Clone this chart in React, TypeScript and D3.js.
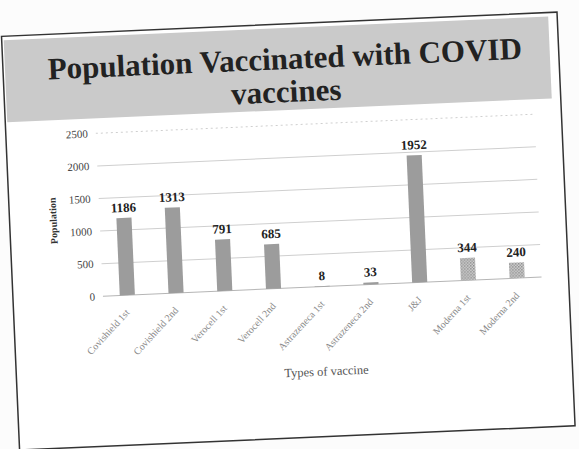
import { scaleBand, scaleLinear } from "d3";

const categories = [
  "Covishield 1st",
  "Covishield 2nd",
  "Verocell 1st",
  "Verocell 2nd",
  "Astrazeneca 1st",
  "Astrazeneca 2nd",
  "J&J",
  "Moderna 1st",
  "Moderna 2nd",
];
const values = [1186, 1313, 791, 685, 8, 33, 1952, 344, 240];
const yTicks = [0, 500, 1000, 1500, 2000, 2500];
const patterned = ["Moderna 1st", "Moderna 2nd"];

const W = 579;
const H = 449;
const font = "'Liberation Serif', 'Times New Roman', serif";

export default function App() {
  const x = scaleBand<string>()
    .domain(categories)
    .range([100, 539])
    .paddingInner(0.69)
    .paddingOuter(0.345);
  const y = scaleLinear().domain([0, 2500]).range([288, 125]);

  return (
    <div style={{ position: "absolute", left: 0, top: 0 }}>
      <svg width={W} height={H} style={{ display: "block", background: "#fcfcfc" }}>
        <defs>
          <pattern id="dots" width="3" height="3" patternUnits="userSpaceOnUse">
            <rect width="3" height="3" fill="#d4d4d4" />
            <rect width="1.5" height="1.5" fill="#8a8a8a" />
            <rect x="1.5" y="1.5" width="1.5" height="1.5" fill="#9a9a9a" />
          </pattern>
        </defs>
        <g transform={`rotate(-2.5 ${W / 2} ${H / 2})`}>
          {/* slide frame */}
          <rect x={10} y={24} width={556} height={414} fill="#ffffff" stroke="#333" strokeWidth={1.5} />
          {/* title band */}
          <rect x={12} y={28} width={545} height={82} fill="#cacaca" />
          <text x={292} y={69} textAnchor="middle" fontFamily={font} fontWeight="bold" fontSize={31} fill="#222">
            Population Vaccinated with COVID
          </text>
          <text x={292} y={102} textAnchor="middle" fontFamily={font} fontWeight="bold" fontSize={31} fill="#222">
            vaccines
          </text>

          {/* grid + y ticks */}
          {yTicks.map((t) => (
            <g key={t}>
              <line
                x1={100}
                x2={539}
                y1={y(t)}
                y2={y(t)}
                stroke={t === 0 ? "#b5b5b5" : "#cfcfcf"}
                strokeWidth={1}
                strokeDasharray={t === 2500 ? "2 3" : undefined}
              />
              <text x={92} y={y(t)} dy="0.35em" textAnchor="end" fontFamily={font} fontSize={11} fill="#444">
                {t}
              </text>
            </g>
          ))}

          {/* y axis title */}
          <text
            transform={`translate(57 ${(y(0) + y(2500)) / 2 + 4}) rotate(-90)`}
            textAnchor="middle"
            fontFamily={font}
            fontWeight="bold"
            fontSize={10}
            fill="#333"
          >
            Population
          </text>

          {/* bars */}
          {categories.map((c, i) => (
            <g key={c}>
              <rect
                x={x(c)}
                y={y(values[i])}
                width={x.bandwidth()}
                height={y(0) - y(values[i])}
                fill={patterned.includes(c) ? "url(#dots)" : "#9c9c9c"}
              />
              <text
                x={(x(c) ?? 0) + x.bandwidth() / 2}
                y={y(values[i]) - 6}
                textAnchor="middle"
                fontFamily={font}
                fontWeight="bold"
                fontSize={13}
                fill="#222"
              >
                {values[i]}
              </text>
              <text
                transform={`translate(${(x(c) ?? 0) + x.bandwidth() / 2 + 2} ${y(0) + 18}) rotate(-45)`}
                textAnchor="end"
                fontFamily={font}
                fontSize={10}
                fill="#8a8a8a"
              >
                {c}
              </text>
            </g>
          ))}

          {/* x axis title */}
          <text x={320} y={377} textAnchor="middle" fontFamily={font} fontSize={12.5} fill="#555">
            Types of vaccine
          </text>
        </g>
      </svg>
    </div>
  );
}
